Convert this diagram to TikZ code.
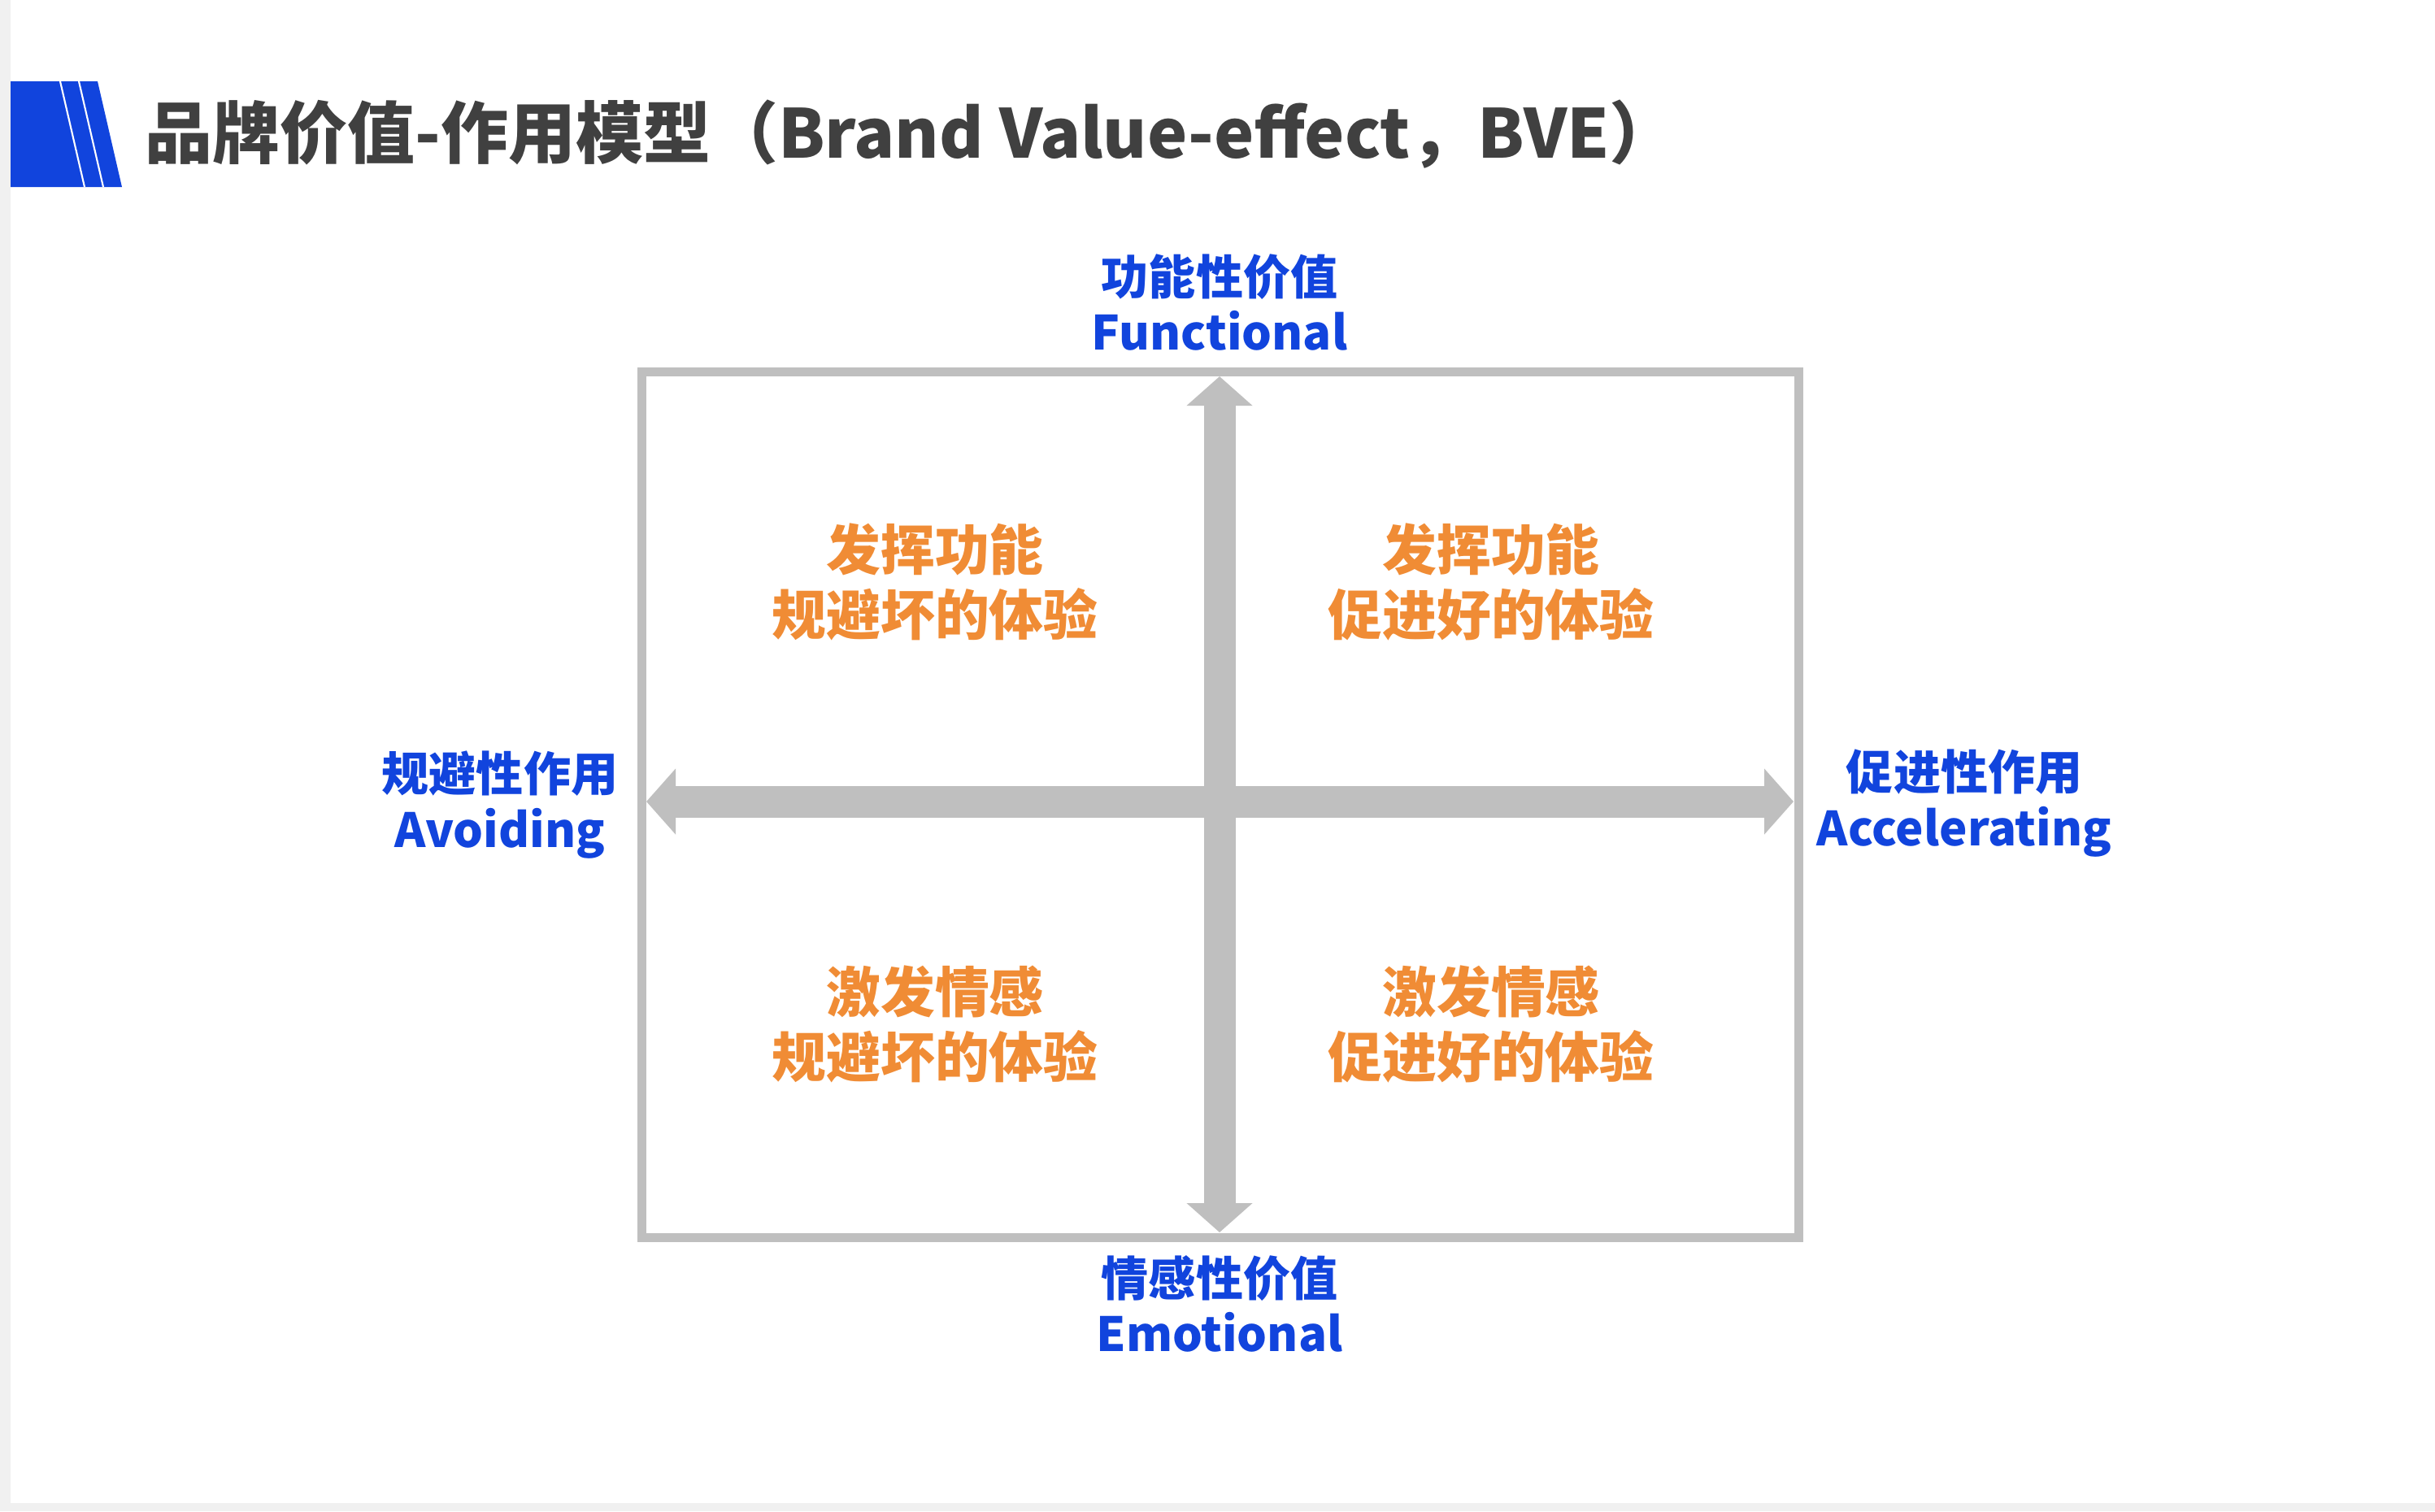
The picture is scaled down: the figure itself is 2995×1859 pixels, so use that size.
\documentclass[tikz,border=0pt]{standalone}
\usepackage{fontspec}
\setmainfont{Noto Sans CJK SC}
\usetikzlibrary{arrows.meta}
\definecolor{axisgray}{HTML}{BFBFBF}
\definecolor{bveblue}{HTML}{1144DD}
\definecolor{bveorange}{HTML}{F08C35}
\definecolor{titlegray}{HTML}{404040}

\begin{document}
\begin{tikzpicture}[x=0.01cm, y=-0.01cm,
    axislabel/.style={text=bveblue, font=\fontsize{16.5}{19.5}\selectfont\bfseries, align=center},
    quadtext/.style={text=bveorange, font=\fontsize{19}{22.8}\selectfont\bfseries, align=center},
    axisarrow/.style={draw=axisgray, line width=0.39cm, {Triangle[width=7.9mm,length=3.6mm]}-{Triangle[width=7.9mm,length=3.6mm]}}]
    \useasboundingbox (0, 0) rectangle (2995, 1859);
    \fill[black!6] (0, 0) rectangle (2995, 1859);
    \fill[white] (13, 0) rectangle (2995, 1849);

    % title bar
    \fill[bveblue] (13, 100) -- (120, 100) -- (150, 230) -- (13, 230) -- cycle;
    \draw[white, line width=0.6pt] (74, 100) -- (104, 230);
    \draw[white, line width=0.6pt] (97, 100) -- (127, 230);
    \node[anchor=west, text=titlegray, font=\fontsize{23.6}{28}\selectfont\bfseries] (title) at (166, 165)
        {品牌价值-作用模型（Brand Value-effect，BVE）};

    % frame and axes
    \draw[axisgray, line width=0.11cm] (789, 457) rectangle (2212, 1522);
    \coordinate (top) at (1500, 463);
    \coordinate (bottom) at (1500, 1516);
    \coordinate (left) at (795, 986);
    \coordinate (right) at (2206, 986);
    \draw[axisarrow] (bottom) -- (top);
    \draw[axisarrow] (left) -- (right);

    % axis labels
    \node[axislabel] (func) at (1500, 372) {功能性价值\\Functional};
    \node[axislabel] (emo) at (1500, 1604) {情感性价值\\Emotional};
    \node[axislabel] (avoid) at (615, 990) {规避性作用\\Avoiding};
    \node[axislabel] (accel) at (2416, 988) {促进性作用\\Accelerating};

    % quadrants
    \node[quadtext] (q_1) at (1150, 716) {发挥功能\\规避坏的体验};
    \node[quadtext] (q_2) at (1834, 716) {发挥功能\\促进好的体验};
    \node[quadtext] (q_3) at (1150, 1260) {激发情感\\规避坏的体验};
    \node[quadtext] (q_4) at (1834, 1260) {激发情感\\促进好的体验};
\end{tikzpicture}
\end{document}
